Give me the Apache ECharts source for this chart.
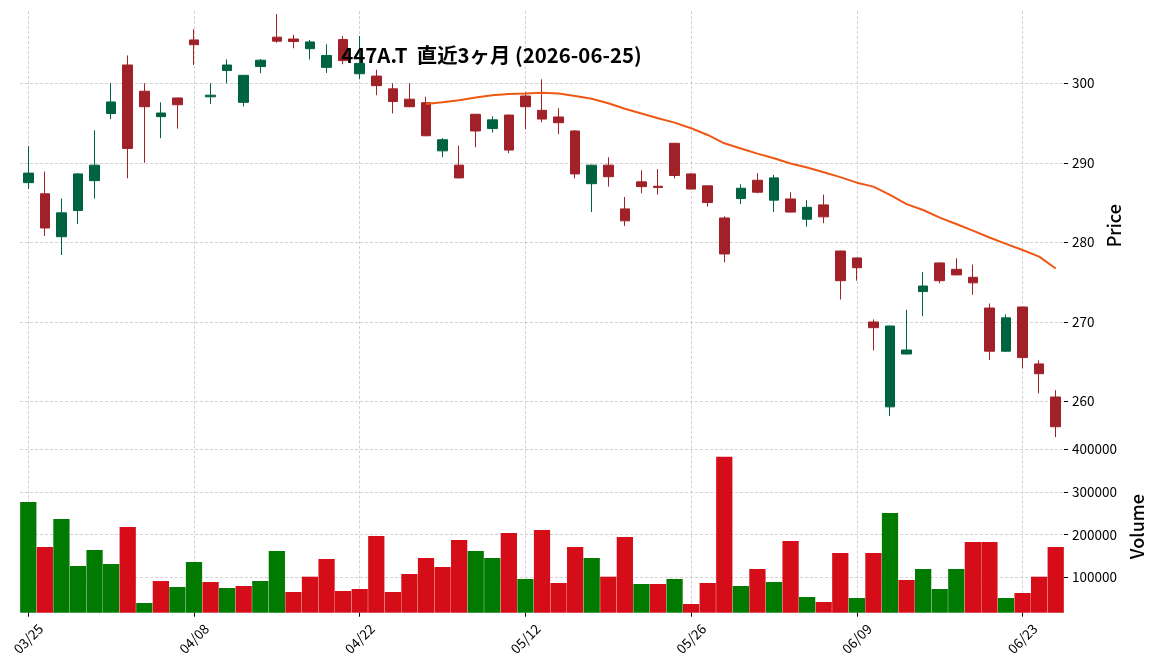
<!DOCTYPE html>
<html>
<head>
<meta charset="utf-8">
<script src="https://cdn.jsdelivr.net/npm/echarts@6/dist/echarts.min.js"></script>
<style>
html,body{margin:0;padding:0;background:#ffffff;}
#chart{width:1152px;height:670px;}
</style>
</head>
<body>
<div id="chart"></div>
<script>
// ---- data ----
const titleText = '447A.T  直近3ヶ月 (2026-06-25)';
const dates = ['03/25','03/26','03/27','03/30','03/31','04/01','04/02','04/03','04/06','04/07',
  '04/08','04/09','04/10','04/13','04/14','04/15','04/16','04/17','04/20','04/21',
  '04/22','04/23','04/24','04/27','04/28','04/30','05/01','05/07','05/08','05/11',
  '05/12','05/13','05/14','05/15','05/18','05/19','05/20','05/21','05/22','05/25',
  '05/26','05/27','05/28','05/29','06/01','06/02','06/03','06/04','06/05','06/08',
  '06/09','06/10','06/11','06/12','06/15','06/16','06/17','06/18','06/19','06/22',
  '06/23','06/24','06/25'];
const opens = [287.5,286.1,280.7,284.0,287.75,296.2,302.3,299.0,295.8,298.15,
  305.45,298.3,301.6,297.6,302.1,305.8,305.57,304.35,302.0,305.5,
  301.2,300.9,299.3,298.0,297.56,291.5,289.7,296.1,294.3,296.0,
  298.4,296.6,295.76,294.0,287.37,289.7,284.2,287.6,287.05,292.45,
  288.6,287.1,283.06,285.5,287.8,285.3,285.45,282.9,284.7,278.9,
  278.03,269.98,259.3,265.95,273.8,277.4,276.6,275.6,271.73,266.3,
  271.86,264.7,260.54];
const closes = [288.7,281.8,283.7,288.6,289.7,297.65,291.8,297.05,296.26,297.3,
  304.85,298.5,302.3,301.0,302.9,305.3,305.25,305.2,303.5,302.85,
  302.5,299.7,297.7,297.05,293.4,292.9,288.1,294.0,295.4,291.6,
  297.05,295.5,295.04,288.6,289.7,288.25,282.7,287.0,286.9,288.4,
  286.7,285.0,278.53,286.8,286.3,288.1,283.8,284.4,283.2,275.17,
  276.8,269.26,269.47,266.45,274.5,275.17,275.9,274.9,266.3,270.5,
  265.5,263.47,256.8];
const lows = [286.7,280.8,278.4,282.3,285.5,295.5,288.05,290.0,293.1,294.3,
  302.3,297.4,300.0,297.1,301.26,305.1,304.4,303.0,301.3,302.4,
  300.5,298.5,296.2,297.0,293.35,290.7,288.05,291.95,293.8,291.2,
  294.2,295.1,293.6,288.05,283.8,287.0,282.05,286.16,286.0,288.05,
  286.65,284.5,277.48,284.8,286.16,283.8,283.75,281.96,282.4,272.8,
  275.17,266.4,258.15,265.9,270.7,274.84,275.85,273.4,265.2,266.2,
  264.15,261.0,255.5];
const highs = [292.1,288.9,285.5,288.7,294.1,300.0,303.5,300.0,297.6,298.2,
  306.8,300.0,303.0,301.0,303.05,308.7,306.1,305.45,304.9,305.95,
  305.95,301.7,300.0,300.0,298.3,293.1,292.15,296.15,295.85,296.05,
  298.9,300.5,296.86,294.1,289.75,290.7,285.7,289.06,289.2,292.5,
  288.65,287.15,283.27,287.3,288.7,288.47,286.3,285.3,286.0,278.95,
  278.08,270.3,269.5,271.5,276.26,277.45,277.99,277.2,272.3,270.94,
  271.9,265.16,261.4];
const volumes = [276200,170500,236200,125800,163400,130500,217500,38900,90600,76500,
  135200,88300,74200,78900,90600,161100,64800,100700,142300,67100,
  71800,196300,64800,107000,144600,123500,186900,161100,144600,203400,
  95300,210400,85900,170500,144600,100700,194000,83600,83600,95300,
  36600,85900,382600,78900,118800,88300,184600,53000,41300,156400,
  50700,156400,250300,93000,118800,71800,118800,182200,182200,50700,
  62400,100700,170500];
// 25-day moving average of close, as drawn (first value on day index 24)
const ma25 = [297.4,297.6,297.86,298.2,298.5,298.65,298.7,298.8,298.7,298.4,
  298.06,297.48,296.8,296.2,295.6,295.05,294.34,293.5,292.45,291.8,
  291.15,290.56,289.9,289.4,288.8,288.2,287.5,287.0,285.95,284.8,
  284.06,283.1,282.3,281.46,280.6,279.8,279.03,278.2,276.7];
const maStartIndex = 24;
const priceTicks = [260, 270, 280, 290, 300];
const volumeTicks = [100000, 200000, 300000, 400000];
const dateLabelStep = 10;

// ---- styles ----
const FONT = "'Noto Sans CJK JP', 'Noto Sans', sans-serif";
const UP = '#006340', DOWN = '#a02128';
const VUP = '#007a00', VDOWN = '#d50d18';
const GRIDC = '#c6c6c6';

const candleData = dates.map((d, i) => [opens[i], closes[i], lows[i], highs[i]]);
const maData = dates.map((d, i) => (i >= maStartIndex ? ma25[i - maStartIndex] : null));
const volData = volumes.map((v, i) => {
  const up = i === 0 ? closes[0] > opens[0] : closes[i] > closes[i - 1];
  return { value: v, itemStyle: { color: up ? VUP : VDOWN } };
});

const showEvery = (i) => i % dateLabelStep === 0;
const gridLine = { show: true, lineStyle: { color: GRIDC, type: [3, 2], width: 0.8 } };

const chart = echarts.init(document.getElementById('chart'), null, { renderer: 'canvas' });
chart.setOption({
  animation: false,
  backgroundColor: '#ffffff',
  textStyle: { fontFamily: FONT },
  grid: [
    { left: 20, width: 1044, top: 11, height: 429.5, outerBoundsMode: 'none', containLabel: false },
    { left: 20, width: 1044, top: 440.5, height: 172.2, outerBoundsMode: 'none', containLabel: false }
  ],
  xAxis: [
    {
      type: 'category', gridIndex: 0, data: dates, boundaryGap: true,
      axisLine: { show: false }, axisTick: { show: false }, axisLabel: { show: false },
      splitLine: Object.assign({ interval: showEvery, alignWithLabel: true }, gridLine)
    },
    {
      type: 'category', gridIndex: 1, data: dates, boundaryGap: true,
      axisLine: { show: false },
      axisTick: { show: true, interval: showEvery, alignWithLabel: true, length: 4, lineStyle: { color: '#000', width: 1 } },
      axisLabel: {
        show: true, interval: showEvery, rotate: 45, align: 'center', verticalAlign: 'middle',
        margin: 26, color: '#000', fontSize: 13.5, fontFamily: FONT
      },
      splitLine: Object.assign({ interval: showEvery, alignWithLabel: true }, gridLine)
    }
  ],
  yAxis: [
    {
      type: 'value', gridIndex: 0, position: 'right', min: 255.07, max: 309.09,
      axisLine: { show: false },
      axisTick: { show: true, customValues: priceTicks, length: 4, lineStyle: { color: '#000', width: 1 } },
      axisLabel: { customValues: priceTicks, color: '#000', fontSize: 13.5, margin: 8, fontFamily: FONT,
        formatter: (v) => String(v) },
      splitLine: gridLine,
      name: 'Price', nameLocation: 'middle', nameRotate: 90, nameGap: 36,
      nameTextStyle: { color: '#000', fontSize: 18, fontFamily: FONT, fontWeight: 500 }
    },
    {
      type: 'value', gridIndex: 1, position: 'right', min: 16140, max: 420500,
      axisLine: { show: false },
      axisTick: { show: true, customValues: volumeTicks, length: 4, lineStyle: { color: '#000', width: 1 } },
      axisLabel: { customValues: volumeTicks, color: '#000', fontSize: 13.5, margin: 8, fontFamily: FONT,
        formatter: (v) => String(v) },
      splitLine: gridLine,
      name: 'Volume', nameLocation: 'middle', nameRotate: 90, nameGap: 56,
      nameTextStyle: { color: '#000', fontSize: 18, fontFamily: FONT, fontWeight: 500 }
    }
  ],
  series: [
    {
      type: 'candlestick', xAxisIndex: 0, yAxisIndex: 0, data: candleData, barWidth: 10, z: 3,
      itemStyle: { color: UP, color0: DOWN, borderColor: UP, borderColor0: DOWN, borderWidth: 1 }
    },
    {
      type: 'line', xAxisIndex: 0, yAxisIndex: 0, data: maData, showSymbol: false, symbol: 'none',
      connectNulls: false, smooth: false, z: 4,
      lineStyle: { color: '#ef5714', width: 2 }
    },
    {
      type: 'bar', xAxisIndex: 1, yAxisIndex: 1, data: volData, barWidth: '98%', z: 3
    }
  ],
  graphic: [
    {
      type: 'text', x: 491.5, y: 55, z: 100,
      style: { text: titleText, align: 'center', verticalAlign: 'middle', fill: '#000',
        fontSize: 20.4, fontWeight: 'bold', fontFamily: FONT }
    }
  ]
});
</script>
</body>
</html>
